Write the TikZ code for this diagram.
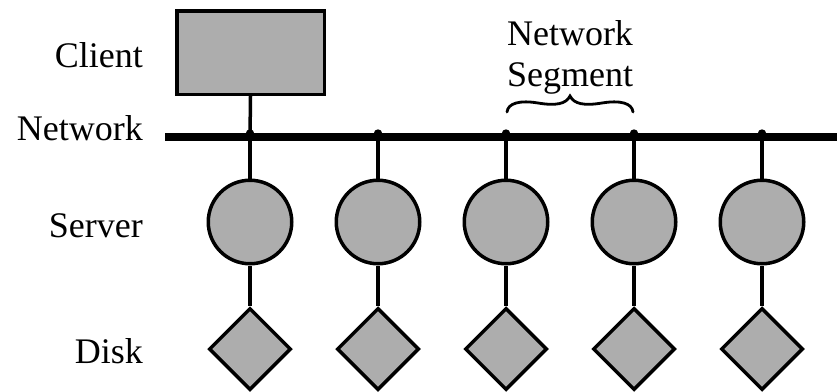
\documentclass[tikz,border=0pt]{standalone}
\usepackage{fontspec}
\setmainfont{Liberation Serif}
\usetikzlibrary{shapes.geometric}

\tikzset{
  lbl/.style={font=\fontsize{36}{41}\selectfont, inner sep=0pt},
  stipple/.style={draw, line width=3.5pt, fill=black!32, inner sep=0pt},
  clientbox/.style={stipple, rectangle, minimum width=147.5pt, minimum height=83.5pt},
  serverdisc/.style={stipple, circle, minimum size=83.5pt},
  diskgem/.style={stipple, diamond, minimum width=82pt, minimum height=82pt},
  wire/.style={line width=3.5pt},
  bus/.style={line width=8pt},
  curly/.style={line width=2.8pt, line cap=round},
}

\begin{document}
\begin{tikzpicture}[x=1pt, y=-1pt]
  \useasboundingbox (0,0) rectangle (837,391);

  % row labels
  \node[lbl, anchor=base east] (lclient) at (143,67)  {Client};
  \node[lbl, anchor=base east] (lnet)    at (143,140) {Network};
  \node[lbl, anchor=base east] (lsrv)    at (143,237) {Server};
  \node[lbl, anchor=base east] (ldisk)   at (143,363) {Disk};

  % network bus
  \coordinate (busL) at (165,137);
  \coordinate (busR) at (837,137);
  \draw[bus] (busL) -- (busR);

  % client
  \node[clientbox] (client) at (250.5,52.5) {};

  % servers, disks and their taps on the bus
  \foreach \i/\x in {1/250, 2/378, 3/506, 4/634, 5/762} {
    \coordinate (tap\i) at (\x,137);
    \fill (\x,133.5) circle (4.2pt);
    \node[serverdisc] (srv\i)  at (\x,222) {};
    \node[diskgem]    (disk\i) at (\x,349) {};
    \draw[wire] (tap\i) -- (srv\i.north);
    \draw[wire] (srv\i.south) -- (disk\i.north);
  }

  \draw[wire] (client.south) -- (tap1);

  % curly brace over one network segment
  \coordinate (brL) at (507,112);
  \coordinate (brT) at (570,96);
  \coordinate (brR) at (633,112);
  \draw[curly] (brL) .. controls (508,103) and (520,100) .. (538,103)
                     .. controls (556,106) and (566,104) .. (brT)
                     .. controls (574,104) and (584,106) .. (602,103)
                     .. controls (620,100) and (632,103) .. (brR);
  \node[lbl, align=center, anchor=south] (seg) at (570,94) {Network\\Segment};
\end{tikzpicture}
\end{document}
